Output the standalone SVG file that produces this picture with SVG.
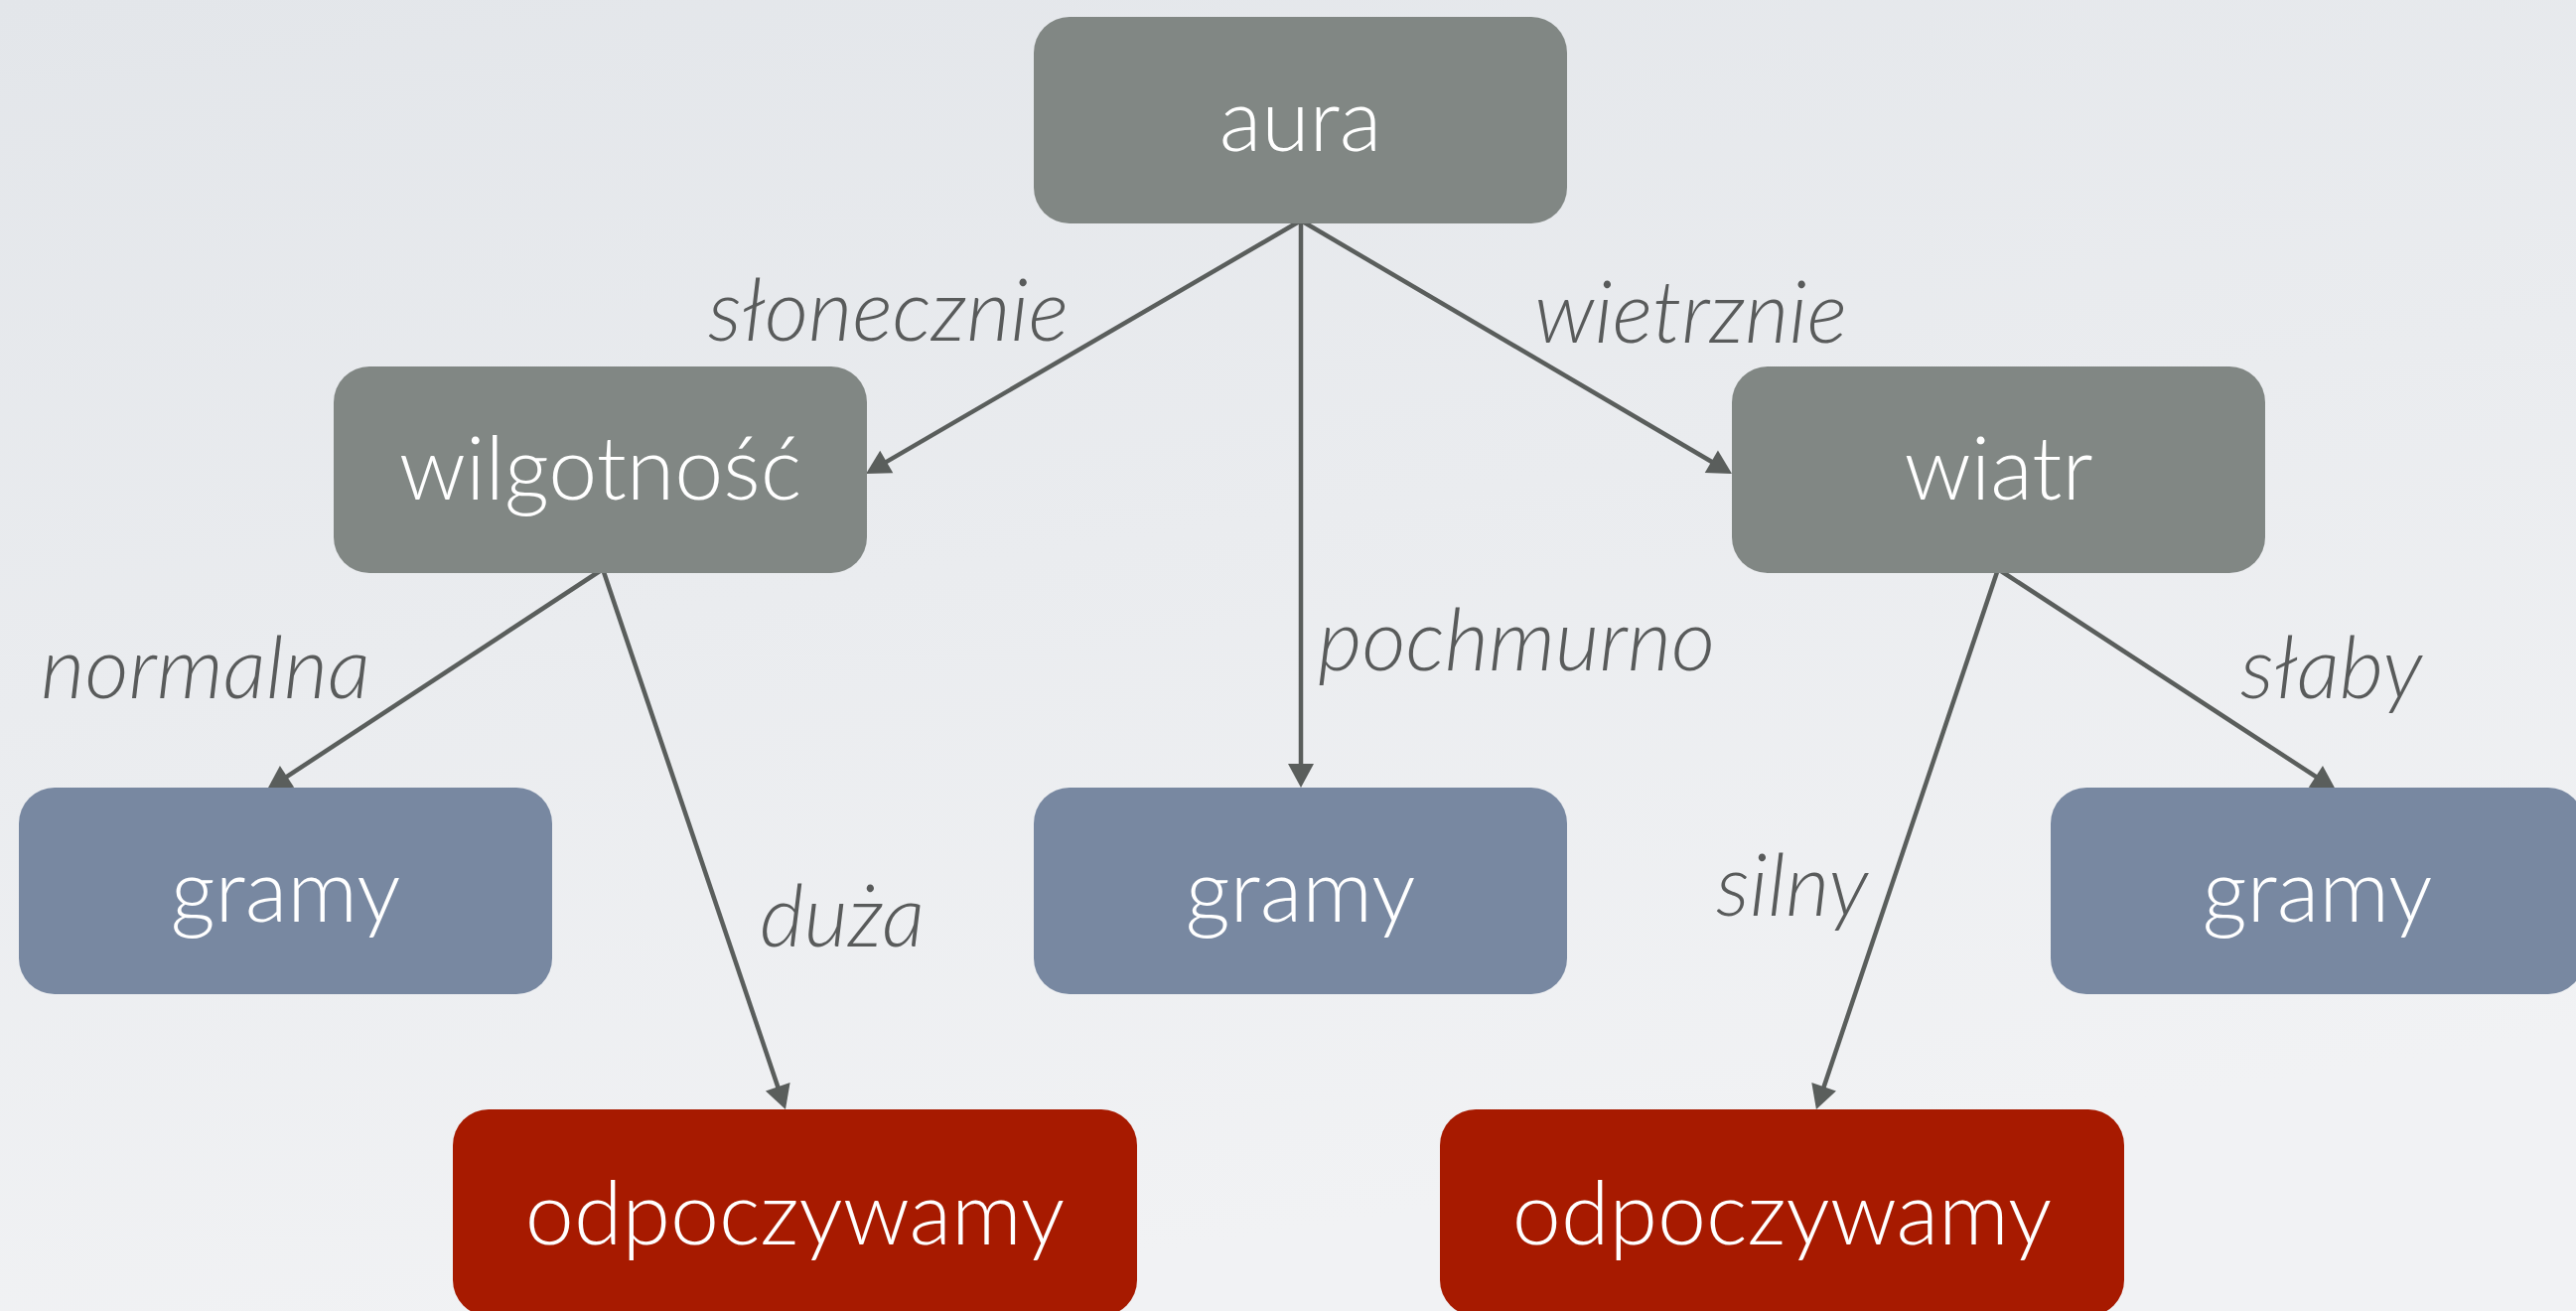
<svg xmlns="http://www.w3.org/2000/svg" width="2594" height="1320" viewBox="0 0 2594 1320">
  <defs>
    <linearGradient id="bg" x1="0" y1="0" x2="0.3" y2="1">
      <stop offset="0" stop-color="#e3e6ea"/>
      <stop offset="1" stop-color="#f1f2f4"/>
    </linearGradient>
    <marker id="arrow" markerUnits="userSpaceOnUse" viewBox="0 -13 24 26" refX="1" refY="0" markerWidth="24" markerHeight="26" orient="auto" overflow="visible">
      <path d="M0,-13 L24,0 L0,13 z" fill="#5a5e5c"/>
    </marker>
    <style>
      .box { stroke: none; }
      .split { fill: #818784; }
      .play { fill: #7888a1; }
      .rest { fill: #a71a00; }
      .name { font-family: Lato, "Open Sans", "Liberation Sans", sans-serif; font-weight: 300; font-size: 88px; fill: #ffffff; text-anchor: middle; }
      .edge { stroke: #5a5e5c; stroke-width: 4.5; fill: none; marker-end: url(#arrow); }
      .cond { font-family: Lato, "Open Sans", "Liberation Sans", sans-serif; font-weight: 300; font-style: italic; font-size: 86px; fill: #595b5b; }
    </style>
  </defs>

  <rect x="0" y="0" width="2594" height="1320" fill="url(#bg)"/>

  <!-- connectors -->
  <g id="connectors">
    <line class="edge" x1="1310" y1="222" x2="891.9" y2="465.4"/>
    <line class="edge" x1="1310" y1="222" x2="1310" y2="770"/>
    <line class="edge" x1="1310" y1="222" x2="1724.2" y2="465.3"/>
    <line class="edge" x1="607" y1="573" x2="288.2" y2="782.4"/>
    <line class="edge" x1="607" y1="573" x2="783.6" y2="1095.2"/>
    <line class="edge" x1="2012" y1="573" x2="1836.3" y2="1095.2"/>
    <line class="edge" x1="2012" y1="573" x2="2332.7" y2="782.4"/>
  </g>

  <!-- edge labels -->
  <g id="labels">
    <text class="cond" x="713" y="343">słonecznie</text>
    <text class="cond" x="1545" y="345">wietrznie</text>
    <text class="cond" x="41" y="703">normalna</text>
    <text class="cond" x="1327" y="675">pochmurno</text>
    <text class="cond" x="2256" y="703">słaby</text>
    <text class="cond" x="765" y="953">duża</text>
    <text class="cond" x="1728" y="922">silny</text>
  </g>

  <!-- nodes -->
  <g id="node-aura">
    <rect class="box split" x="1041" y="17" width="537" height="208" rx="36"/>
    <text class="name" x="1309.5" y="152">aura</text>
  </g>
  <g id="node-wilgotnosc">
    <rect class="box split" x="336" y="369" width="537" height="208" rx="36"/>
    <text class="name" x="604.5" y="503">wilgotność</text>
  </g>
  <g id="node-wiatr">
    <rect class="box split" x="1744" y="369" width="537" height="208" rx="36"/>
    <text class="name" x="2012.5" y="503">wiatr</text>
  </g>
  <g id="node-gramy-1">
    <rect class="box play" x="19" y="793" width="537" height="208" rx="36"/>
    <text class="name" x="287.5" y="928">gramy</text>
  </g>
  <g id="node-gramy-2">
    <rect class="box play" x="1041" y="793" width="537" height="208" rx="36"/>
    <text class="name" x="1309.5" y="928">gramy</text>
  </g>
  <g id="node-gramy-3">
    <rect class="box play" x="2065" y="793" width="537" height="208" rx="36"/>
    <text class="name" x="2333.5" y="928">gramy</text>
  </g>
  <g id="node-odpoczywamy-1">
    <rect class="box rest" x="456" y="1117" width="689" height="208" rx="36"/>
    <text class="name" x="800.5" y="1253">odpoczywamy</text>
  </g>
  <g id="node-odpoczywamy-2">
    <rect class="box rest" x="1450" y="1117" width="689" height="208" rx="36"/>
    <text class="name" x="1794.5" y="1253">odpoczywamy</text>
  </g>
</svg>
